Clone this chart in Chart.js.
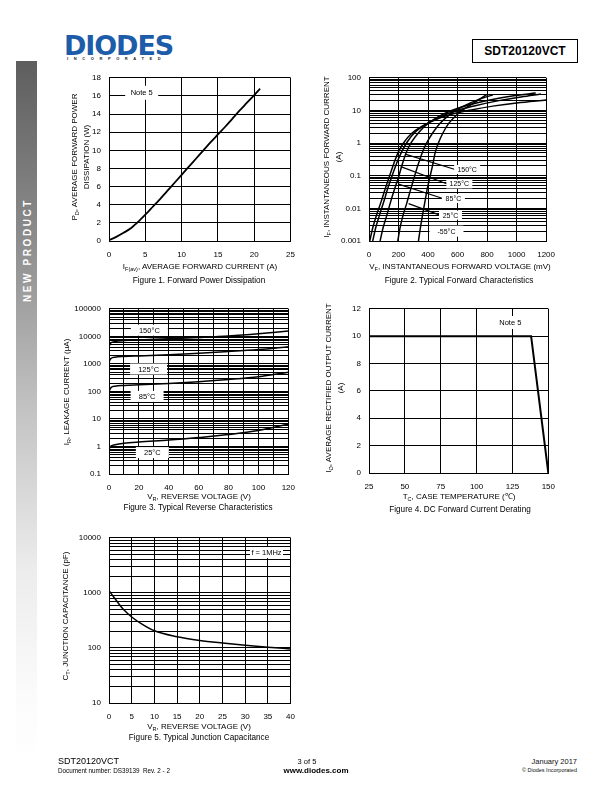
<!DOCTYPE html>
<html>
<head>
<meta charset="utf-8">
<script src="https://cdn.jsdelivr.net/npm/chart.js@4.4.1/dist/chart.umd.min.js"></script>
<style>
  body { margin: 0; width: 612px; height: 792px; position: relative; background: #fff;
         font-family: "Liberation Sans", Arial, sans-serif; color: #000; overflow: hidden; }
  canvas { position: absolute; }
  .tx { position: absolute; white-space: nowrap; line-height: 1; }
  .ctr { transform: translateX(-50%); }
  .rot { position: absolute; white-space: nowrap; text-align: center;
         transform: translate(-50%, -50%) rotate(-90deg); }
  .lab { font-size: 8px; }
  .cap { font-size: 8.2px; }
  sub { font-size: 5.5px; vertical-align: -1.5px; }
  #side { position: absolute; left: 16px; top: 61px; width: 21px; height: 705px;
          background: linear-gradient(#5e5e5e, #8c8c8c 25%, #c4c4c4 50%, #ececec 72%, #fbfbfb 90%, #fff); }
  #pn { position: absolute; left: 472px; top: 39px; width: 104px; height: 22px; border: 1px solid #000;
        font: bold 12px/22px "Liberation Sans", Arial, sans-serif; text-align: center; }
</style>
</head>
<body>

<div id="side"></div>
<div class="rot" style="left:27px;top:250px;color:#fff;font-weight:bold;font-size:10px;letter-spacing:2.6px">NEW PRODUCT</div>

<div class="tx" style="left:64px;top:32px;font-family:'DejaVu Sans';font-weight:bold;font-size:27px;color:#1d5ca9;letter-spacing:-1.1px">DIODES</div>
<div class="tx" style="left:67px;top:57px;font-weight:bold;font-size:4px;letter-spacing:5.6px;color:#222">INCORPORATED</div>
<div id="pn">SDT20120VCT</div>

<canvas id="fig1"></canvas>
<canvas id="fig2"></canvas>
<canvas id="fig3"></canvas>
<canvas id="fig4"></canvas>
<canvas id="fig5"></canvas>

<!-- axis titles and captions -->
<div class="rot lab" style="left:81px;top:157px;line-height:10px">P<sub>D</sub>, AVERAGE FORWARD POWER<br>DISSIPATION (W)</div>
<div class="tx lab ctr" style="left:200px;top:263px">I<sub>F(av)</sub>, AVERAGE FORWARD CURRENT (A)</div>
<div class="tx cap ctr" style="left:199px;top:277px">Figure 1. Forward Power Dissipation</div>

<div class="rot lab" style="left:333px;top:157px;line-height:10px">I<sub>F</sub>, INSTANTANEOUS FORWARD CURRENT<br>(A)</div>
<div class="tx lab ctr" style="left:460px;top:263px">V<sub>F</sub>, INSTANTANEOUS FORWARD VOLTAGE (mV)</div>
<div class="tx cap ctr" style="left:459px;top:277px">Figure 2. Typical Forward Characteristics</div>

<div class="rot lab" style="left:67px;top:392px">I<sub>R</sub>, LEAKAGE CURRENT (µA)</div>
<div class="tx lab ctr" style="left:199px;top:493px">V<sub>R</sub>, REVERSE VOLTAGE (V)</div>
<div class="tx cap ctr" style="left:198px;top:504px">Figure 3. Typical Reverse Characteristics</div>

<div class="rot lab" style="left:335px;top:388px;line-height:10px">I<sub>O</sub>, AVERAGE RECTIFIED OUTPUT CURRENT<br>(A)</div>
<div class="tx lab ctr" style="left:459px;top:493px">T<sub>C</sub>, CASE TEMPERATURE (℃)</div>
<div class="tx cap ctr" style="left:460px;top:506px">Figure 4. DC Forward Current Derating</div>

<div class="rot lab" style="left:66px;top:616px">C<sub>T</sub>, JUNCTION CAPACITANCE (pF)</div>
<div class="tx lab ctr" style="left:199px;top:723px">V<sub>R</sub>, REVERSE VOLTAGE (V)</div>
<div class="tx cap ctr" style="left:199px;top:734px">Figure 5. Typical Junction Capacitance</div>

<!-- footer -->
<div class="tx" style="left:58px;top:757px;font-size:9px">SDT20120VCT</div>
<div class="tx" style="left:58px;top:768px;font-size:6.3px">Document number: DS39139&nbsp; Rev. 2 - 2</div>
<div class="tx ctr" style="left:307px;top:758px;font-size:7.5px">3 of 5</div>
<div class="tx ctr" style="left:316px;top:767px;font-size:8px;font-weight:bold">www.diodes.com</div>
<div class="tx" style="right:35px;top:758px;font-size:7.5px;color:#111">January 2017</div>
<div class="tx" style="right:35px;top:768px;font-size:5.5px;color:#111">© Diodes Incorporated</div>

<script>
// Figure 1: forward power dissipation
const fig1Current = [0, 1, 2, 3, 3.5, 4, 5, 6, 7, 8, 9, 10, 11, 12, 13, 14, 15, 16, 17, 18, 19, 20, 20.8];
const fig1Power   = [0.1, 0.45, 0.9, 1.4, 1.75, 2.1, 2.9, 3.75, 4.6, 5.5, 6.4, 7.3, 8.2, 9.1, 10.0, 10.9, 11.75, 12.6, 13.5, 14.4, 15.25, 16.1, 16.8];

// Figure 2: typical forward characteristics (mV, A)
const fig2Temps = ['150°C', '125°C', '85°C', '25°C', '-55°C'];
const fig2V150 = [5, 25, 50, 80, 110, 140, 170, 200, 240, 290, 360, 450, 560, 700, 850, 1000, 1200];
const fig2I150 = [0.001, 0.0025, 0.006, 0.015, 0.04, 0.1, 0.25, 0.55, 1.1, 2, 3.3, 5.2, 7.6, 10.5, 13.8, 17, 21];
const fig2V125 = [25, 45, 70, 100, 130, 160, 190, 222, 260, 310, 380, 470, 580, 720, 880, 1030, 1165];
const fig2I125 = [0.001, 0.0025, 0.006, 0.016, 0.045, 0.11, 0.26, 0.55, 1.1, 2.1, 3.6, 6, 9.5, 14, 20, 26, 32];
const fig2V85  = [75, 95, 120, 145, 170, 200, 225, 255, 290, 340, 400, 470, 560, 680, 820, 980, 1130];
const fig2I85  = [0.001, 0.0025, 0.006, 0.015, 0.035, 0.09, 0.22, 0.55, 1.1, 2.2, 4, 6.5, 10, 15, 21, 28, 34];
const fig2V25  = [195, 210, 230, 255, 280, 305, 330, 360, 390, 430, 480, 540, 610, 700, 770, 840];
const fig2I25  = [0.001, 0.0025, 0.006, 0.014, 0.035, 0.085, 0.2, 0.5, 1.0, 2, 4, 7, 11.5, 18, 24, 30];
const fig2Vm55 = [335, 348, 362, 378, 395, 415, 432, 448, 470, 500, 540, 590, 650, 720, 800];
const fig2Im55 = [0.001, 0.0025, 0.006, 0.015, 0.04, 0.1, 0.22, 0.5, 1.0, 2, 4, 7, 11.5, 18, 31];
const fig2YTicks = [0.001, 0.01, 0.1, 1, 10, 100];
const fig2YLabels = ['0.001', '0.01', '0.1', '1', '10', '100'];

// Figure 3: typical reverse characteristics (V, µA)
const fig3Temps = ['150°C', '125°C', '85°C', '25°C'];
const fig3Volt = [0, 0.5, 1.5, 4, 10, 20, 40, 60, 80, 100, 120];
const fig3I150 = [4000, 5000, 5900, 6500, 7000, 7400, 8100, 9000, 10200, 12300, 15500];
const fig3I125 = [1050, 1350, 1600, 1750, 1850, 1950, 2150, 2450, 2800, 3300, 4200];
const fig3I85  = [90, 115, 140, 155, 165, 175, 195, 225, 270, 340, 500];
const fig3I25  = [0.75, 0.9, 1.05, 1.15, 1.3, 1.45, 1.7, 2.1, 2.7, 3.8, 6.5];
const fig3YTicks = [0.1, 1, 10, 100, 1000, 10000, 100000];
const fig3YLabels = ['0.1', '1', '10', '100', '1000', '10000', '100000'];

// Figure 4: DC forward current derating
const fig4Temp = [25, 138, 150];
const fig4Current = [10, 10, 0];

// Figure 5: typical junction capacitance
const fig5Volt = [0, 1, 2, 3, 4, 5, 7, 10, 15, 20, 25, 30, 35, 40];
const fig5Cap  = [1100, 850, 660, 520, 430, 365, 280, 205, 160, 137, 123, 112, 103, 96];
const fig5YTicks = [10, 100, 1000, 10000];
const fig5YLabels = ['10', '100', '1000', '10000'];

const FONT = '"Liberation Sans", Arial, sans-serif';
Chart.defaults.font.family = FONT;
Chart.defaults.font.size = 8;
Chart.defaults.color = '#000';

const YW = 50, XH = 24, PT = 8, PR = 12;

function place(id, area) {
  const c = document.getElementById(id);
  c.width = YW + (area.r - area.l) + PR;
  c.height = PT + (area.b - area.t) + XH;
  c.style.left = (area.l - YW) + 'px';
  c.style.top = (area.t - PT) + 'px';
  return c;
}

function pts(xs, ys) {
  return xs.map((x, i) => ({ x: x, y: ys[i] }));
}

function curve(xs, ys, w) {
  return { data: pts(xs, ys), borderColor: '#000', borderWidth: w || 1.5, pointRadius: 0,
           fill: false, cubicInterpolationMode: 'monotone' };
}

const gridStyle = { color: '#000', lineWidth: 1, drawTicks: false };
const borderStyle = { display: true, color: '#000', width: 1 };

function linAxis(min, max, step, labelStep, isX) {
  return {
    type: 'linear', min: min, max: max,
    grid: gridStyle, border: borderStyle,
    afterFit: isX ? s => { s.height = XH; } : s => { s.width = YW; },
    ticks: {
      stepSize: step, autoSkip: false, maxRotation: 0, minRotation: 0,
      padding: isX ? 9 : 8,
      callback: v => (Math.abs((v - min) / labelStep - Math.round((v - min) / labelStep)) < 1e-6 ? String(v) : '')
    }
  };
}

function logAxis(tickVals, tickLabels) {
  const min = tickVals[0], max = tickVals[tickVals.length - 1];
  return {
    type: 'logarithmic', min: min, max: max,
    grid: gridStyle, border: borderStyle,
    afterFit: s => { s.width = YW; },
    afterBuildTicks: s => {
      const t = [];
      for (let d = 0; d < tickVals.length - 1; d++) {
        for (let m = 1; m < 10; m++) t.push({ value: +(m * tickVals[d]).toPrecision(4) });
      }
      t.push({ value: max });
      s.ticks = t;
    },
    ticks: {
      autoSkip: false, padding: 8,
      callback: v => {
        const i = tickVals.findIndex(t => Math.abs(Math.log10(t) - Math.log10(v)) < 1e-6);
        return i >= 0 ? tickLabels[i] : '';
      }
    }
  };
}

// boxed notes drawn over the grid (with optional leader lines)
const notesPlugin = {
  id: 'notes',
  beforeDatasetsDraw(chart, args, opts) {
    const items = opts.items || [];
    const ctx = chart.ctx, xs = chart.scales.x, ys = chart.scales.y;
    ctx.save();
    ctx.font = (opts.size || 7.5) + 'px ' + FONT;
    items.forEach(it => {
      const px = xs.getPixelForValue(it.x), py = ys.getPixelForValue(it.y);
      if (it.tx !== undefined) {
        ctx.beginPath();
        ctx.moveTo(px - it.w / 2 + 1, py);
        ctx.lineTo(xs.getPixelForValue(it.tx), ys.getPixelForValue(it.ty));
        ctx.lineWidth = 1.2;
        ctx.strokeStyle = '#000';
        ctx.stroke();
      }
      ctx.fillStyle = '#fff';
      ctx.fillRect(px - it.w / 2, py - it.h / 2, it.w, it.h);
      ctx.fillStyle = '#000';
      ctx.textAlign = 'center';
      ctx.textBaseline = 'middle';
      ctx.fillText(it.text, px, py + 0.5);
    });
    ctx.restore();
  }
};

function baseOptions(xAxis, yAxis, notes, noteSize) {
  return {
    responsive: false, animation: false, devicePixelRatio: 1,
    layout: { padding: { top: PT, right: PR, left: 0, bottom: 0 } },
    plugins: { legend: { display: false }, tooltip: { enabled: false },
               notes: { items: notes, size: noteSize } },
    scales: { x: xAxis, y: yAxis }
  };
}

// Figure 1
place('fig1', { l: 109, t: 73, r: 292, b: 241 });
new Chart(document.getElementById('fig1'), {
  type: 'line',
  data: { datasets: [curve(fig1Current, fig1Power, 1.8)] },
  options: baseOptions(linAxis(0, 25, 5, 5, true), linAxis(0, 18, 2, 2, false),
    [{ text: 'Note 5', x: 4.5, y: 16.35, w: 33, h: 14 }], 7.5),
  plugins: [notesPlugin]
});

// Figure 2
place('fig2', { l: 369, t: 73, r: 552, b: 241 });
new Chart(document.getElementById('fig2'), {
  type: 'line',
  data: { datasets: [
    curve(fig2V150, fig2I150), curve(fig2V125, fig2I125), curve(fig2V85, fig2I85),
    curve(fig2V25, fig2I25), curve(fig2Vm55, fig2Im55)
  ] },
  options: baseOptions(linAxis(0, 1200, 200, 200, true), logAxis(fig2YTicks, fig2YLabels), [
    { text: fig2Temps[0], x: 665, y: 0.155, w: 26, h: 9, tx: 250, ty: 0.45 },
    { text: fig2Temps[1], x: 612, y: 0.056, w: 26, h: 9, tx: 215, ty: 0.19 },
    { text: fig2Temps[2], x: 572, y: 0.02, w: 23, h: 9, tx: 200, ty: 0.055 },
    { text: fig2Temps[3], x: 552, y: 0.0062, w: 23, h: 9, tx: 268, ty: 0.014 },
    { text: fig2Temps[4], x: 525, y: 0.002, w: 34, h: 11 }
  ], 7),
  plugins: [notesPlugin]
});

// Figure 3
place('fig3', { l: 109, t: 304, r: 292, b: 474 });
new Chart(document.getElementById('fig3'), {
  type: 'line',
  data: { datasets: [
    curve(fig3Volt, fig3I150), curve(fig3Volt, fig3I125), curve(fig3Volt, fig3I85), curve(fig3Volt, fig3I25)
  ] },
  options: baseOptions(linAxis(0, 120, 10, 20, true), logAxis(fig3YTicks, fig3YLabels), [
    { text: fig3Temps[0], x: 27, y: 16700, w: 37, h: 11 },
    { text: fig3Temps[1], x: 26.5, y: 650, w: 37, h: 11 },
    { text: fig3Temps[2], x: 25.5, y: 66, w: 33, h: 11 },
    { text: fig3Temps[3], x: 29, y: 0.6, w: 33, h: 11 }
  ], 7.5),
  plugins: [notesPlugin]
});

// Figure 4
place('fig4', { l: 369, t: 304, r: 552, b: 473 });
new Chart(document.getElementById('fig4'), {
  type: 'line',
  data: { datasets: [{ data: pts(fig4Temp, fig4Current), borderColor: '#000', borderWidth: 2,
                       pointRadius: 0, fill: false, tension: 0 }] },
  options: baseOptions(linAxis(25, 150, 25, 25, true), linAxis(0, 12, 2, 2, false),
    [{ text: 'Note 5', x: 123.5, y: 11, w: 32, h: 13 }], 7.5),
  plugins: [notesPlugin]
});

// Figure 5
place('fig5', { l: 109, t: 533, r: 292, b: 703 });
new Chart(document.getElementById('fig5'), {
  type: 'line',
  data: { datasets: [curve(fig5Volt, fig5Cap)] },
  options: baseOptions(linAxis(0, 40, 5, 5, true), logAxis(fig5YTicks, fig5YLabels),
    [{ text: 'f = 1MHz', x: 34.7, y: 5400, w: 33, h: 11 }], 7.5),
  plugins: [notesPlugin]
});
</script>
</body>
</html>
